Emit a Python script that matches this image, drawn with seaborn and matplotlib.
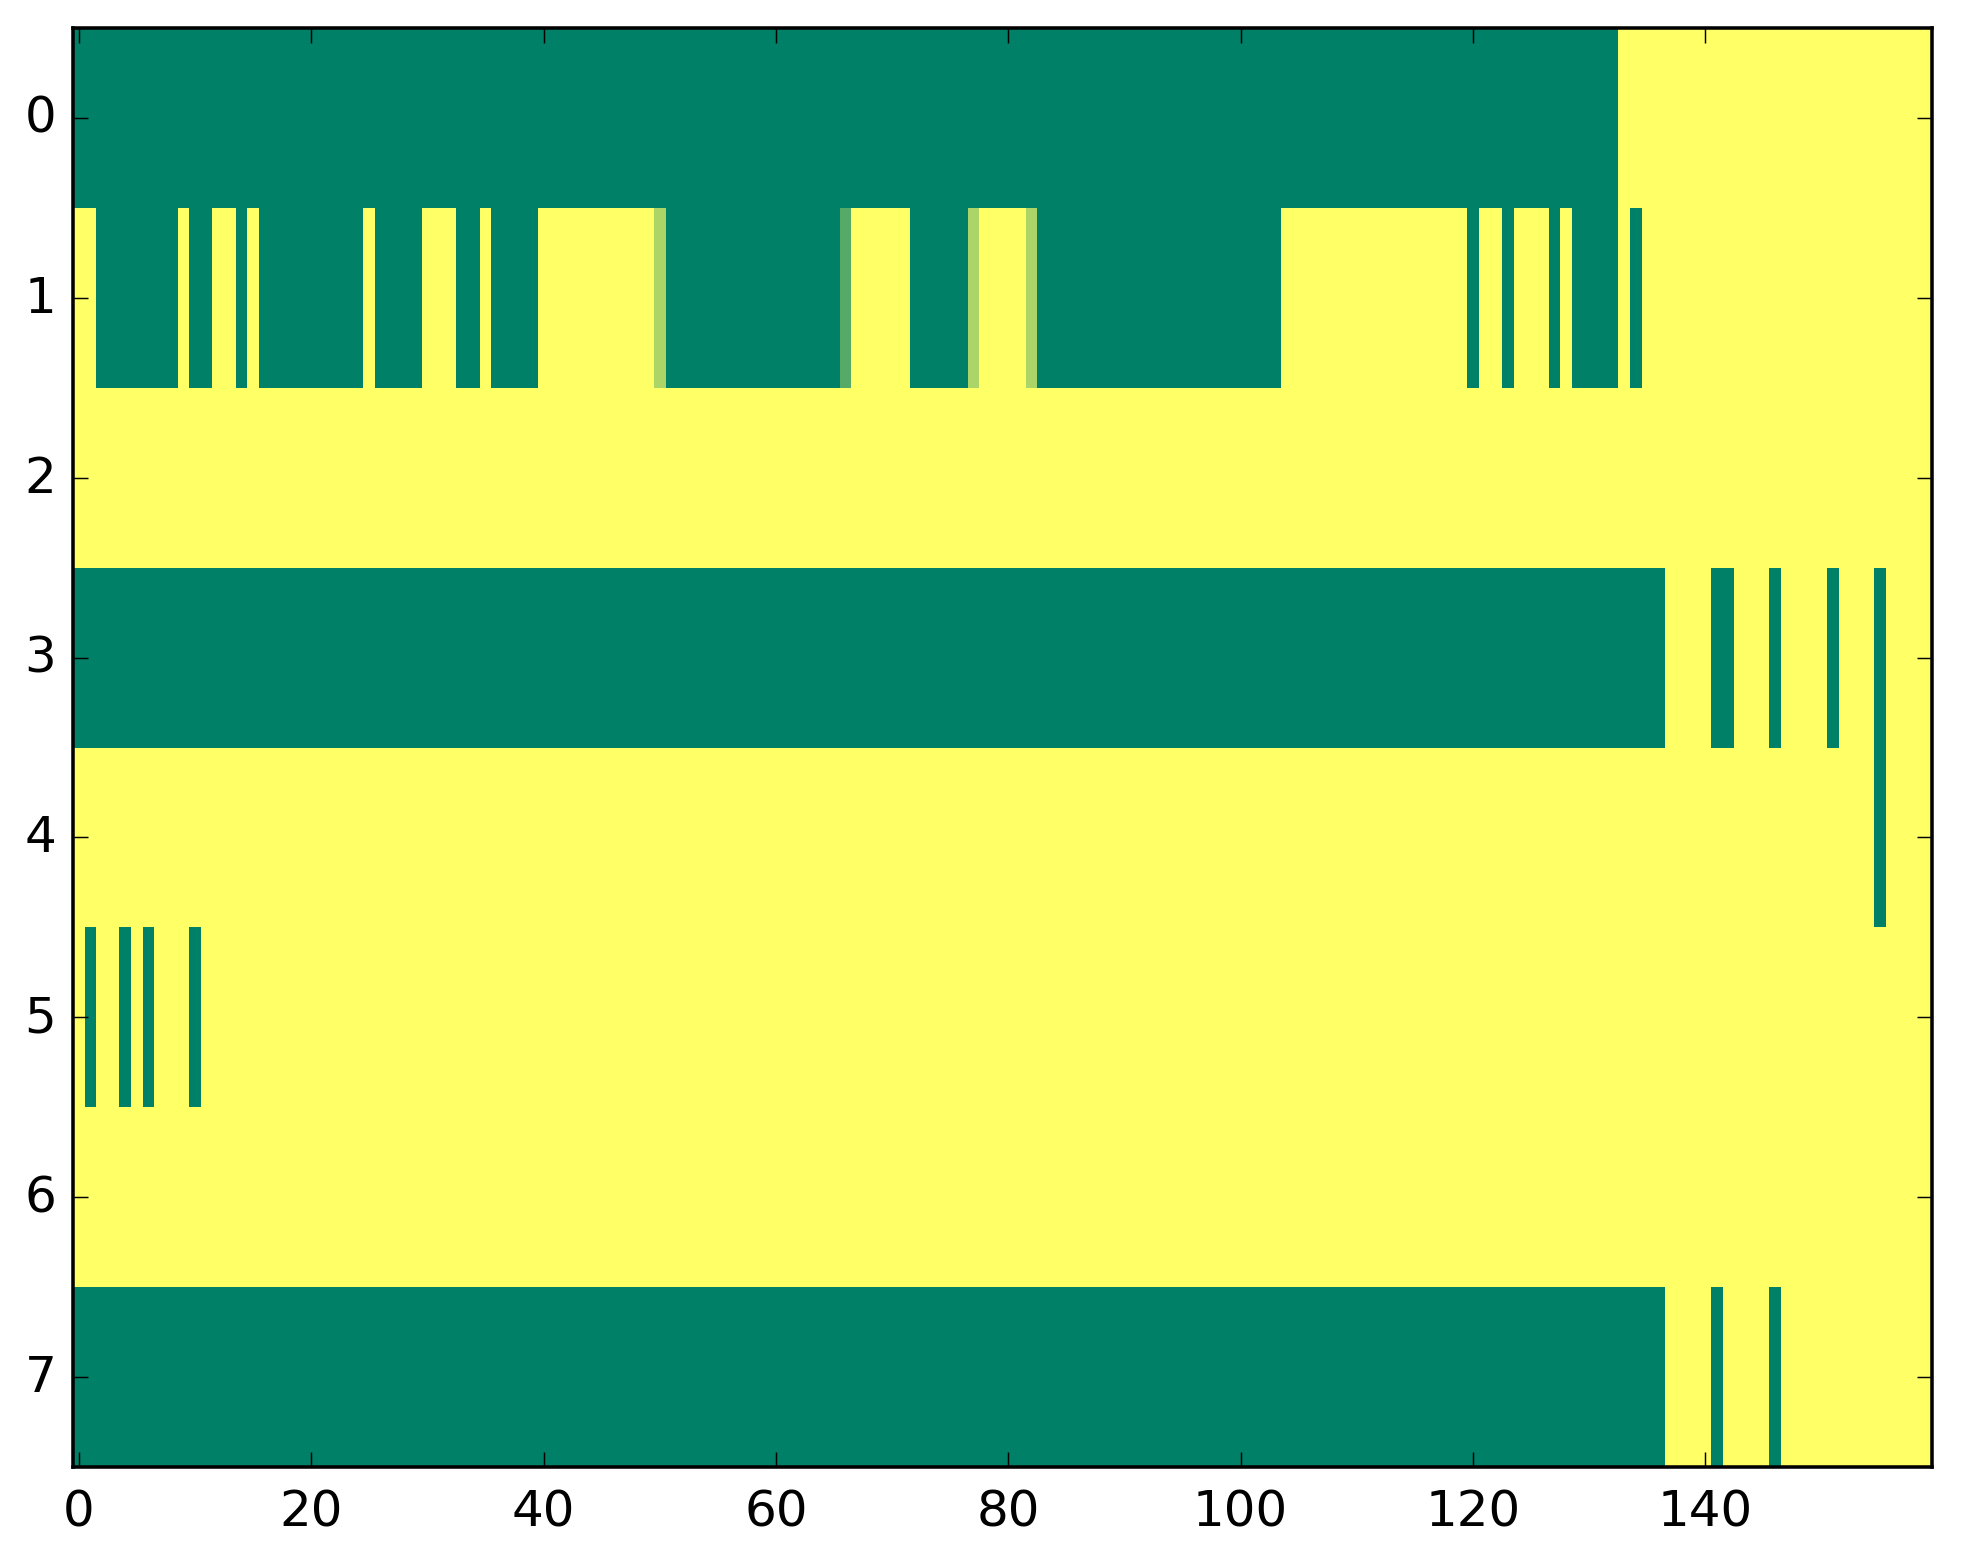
import numpy as np
import matplotlib
matplotlib.use("Agg")
import matplotlib.pyplot as plt
import seaborn as sns

# each row stored as runs of (value, length); 0 = green end, 1 = yellow end of "summer"
row0 = [(0, 133), (1, 27)]
row1 = [(1, 2), (0, 7), (1, 1), (0, 2), (1, 2), (0, 1), (1, 1), (0, 9), (1, 1), (0, 4),
        (1, 3), (0, 2), (1, 1), (0, 4), (1, 10), (0.67, 1), (0, 15), (0.33, 1), (1, 5),
        (0, 5), (0.67, 1), (1, 4), (0.67, 1), (0, 21), (1, 16), (0, 1), (1, 2), (0, 1),
        (1, 3), (0, 1), (1, 1), (0, 4), (1, 1), (0, 1), (1, 25)]
row2 = [(1, 160)]
row3 = [(0, 137), (1, 4), (0, 2), (1, 3), (0, 1), (1, 4), (0, 1), (1, 3), (0, 1), (1, 4)]
row4 = [(1, 155), (0, 1), (1, 4)]
row5 = [(1, 1), (0, 1), (1, 2), (0, 1), (1, 1), (0, 1), (1, 3), (0, 1), (1, 149)]
row6 = [(1, 160)]
row7 = [(0, 137), (1, 4), (0, 1), (1, 4), (0, 1), (1, 13)]

rows = [row0, row1, row2, row3, row4, row5, row6, row7]
xticks = [0, 20, 40, 60, 80, 100, 120, 140]
yticks = [0, 1, 2, 3, 4, 5, 6, 7]


def expand(runs):
    vals = [v for v, n in runs]
    counts = [n for v, n in runs]
    return np.repeat(vals, counts)


grid = np.vstack([expand(r) for r in rows])

sns.set_style("ticks")
plt.rcParams.update({
    "font.family": ["DejaVu Sans"],
    "font.size": 12,
    "text.color": "black",
    "xtick.color": "black",
    "ytick.color": "black",
    "axes.edgecolor": "black",
    "axes.axisbelow": False,
})

fig = plt.figure(figsize=(1963 / 300, 1564 / 300), dpi=300)
ax = fig.add_axes([73 / 1963, 1 - 1468 / 1564, (1932 - 73) / 1963, (1468 - 29) / 1564])

sns.heatmap(grid, cmap="summer", vmin=0, vmax=1, cbar=False, ax=ax, linewidths=0)
ax.set_axisbelow(False)

for s in ax.spines.values():
    s.set_visible(True)
    s.set_color("black")
    s.set_linewidth(0.85)
    s.set_zorder(3)

ax.set_xticks(np.array(xticks) + 0.5)
ax.set_xticklabels([str(t) for t in xticks], rotation=0, fontsize=12)
ax.set_yticks(np.array(yticks) + 0.5)
ax.set_yticklabels([str(t) for t in yticks], rotation=0, fontsize=12)
ax.tick_params(axis="both", which="major", direction="in", top=True, right=True,
               bottom=True, left=True, length=3.6, width=0.35, color="black",
               labelcolor="black")
ax.tick_params(axis="x", pad=5)
ax.tick_params(axis="y", pad=4)

fig.savefig("out.png", dpi=300)
